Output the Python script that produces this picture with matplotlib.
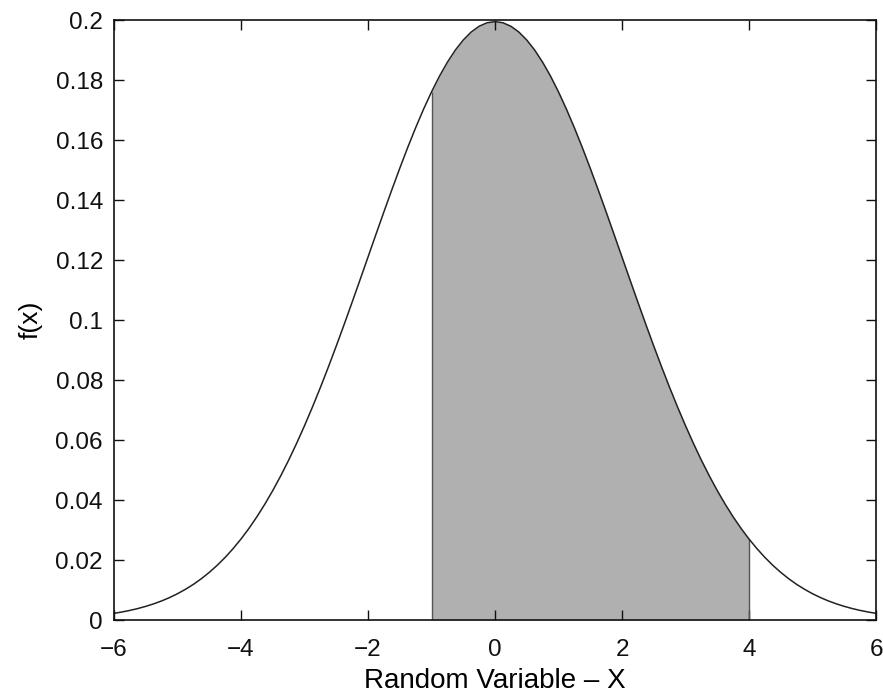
import numpy as np
import matplotlib
matplotlib.use("Agg")
import matplotlib.pyplot as plt

plt.rcParams["font.family"] = ["Liberation Sans", "DejaVu Sans"]

# density values, x step 0.125 (curve is symmetric about 0)
x = np.arange(-6, 6.0001, 0.125)
right_half = [0.19947, 0.19908, 0.19792, 0.19600, 0.19333, 0.18997, 0.18593,
              0.18127, 0.17603, 0.17028, 0.16408, 0.15749, 0.15057, 0.14339,
              0.13603, 0.12854, 0.12098, 0.11343, 0.10594, 0.09855, 0.09132,
              0.08429, 0.07750, 0.07098, 0.06476, 0.05885, 0.05327, 0.04803,
              0.04314, 0.03860, 0.03439, 0.03053, 0.02700, 0.02378, 0.02086,
              0.01823, 0.01587, 0.01376, 0.01188, 0.01023, 0.00876, 0.00748,
              0.00636, 0.00539, 0.00455, 0.00382, 0.00320, 0.00267, 0.00222]
fx = np.array(right_half[:0:-1] + right_half)

shade_lo, shade_hi = -1, 4
xticks = [-6, -4, -2, 0, 2, 4, 6]
yticks = [0, 0.02, 0.04, 0.06, 0.08, 0.1, 0.12, 0.14, 0.16, 0.18, 0.2]
ytick_labels = ["0", "0.02", "0.04", "0.06", "0.08", "0.1", "0.12", "0.14",
                "0.16", "0.18", "0.2"]

fig = plt.figure(figsize=(8.83, 6.95), dpi=100)
ax = fig.add_axes([0.1291, 0.1079, 0.863, 0.8633])

mask = (x >= shade_lo) & (x <= shade_hi)
ax.fill_between(x[mask], 0, fx[mask], color="#b0b0b0", lw=0)
for xv in (shade_lo, shade_hi):
    ax.vlines(xv, 0, fx[np.isclose(x, xv)][0], color="#555555", lw=1.0)
ax.plot(x, fx, color="#222222", lw=1.1)

ax.set_xlim(-6, 6)
ax.set_ylim(0, 0.2)
ax.set_xticks(xticks)
ax.set_xticklabels(["\u2212" + str(-t) if t < 0 else str(t) for t in xticks])
ax.set_yticks(yticks)
ax.set_yticklabels(ytick_labels)
ax.tick_params(direction="in", length=7, width=1.0, labelsize=17.5,
               top=True, right=True, colors="#111111")
ax.tick_params(axis="x", pad=14)
ax.tick_params(axis="y", pad=8)
for s in ax.spines.values():
    s.set_linewidth(1.2)
    s.set_color("#111111")
ax.set_xlabel("Random Variable \u2013 X", fontsize=20, labelpad=5)
ax.set_ylabel("f(x)", fontsize=19, labelpad=9)

fig.savefig("out.png", dpi=100)
